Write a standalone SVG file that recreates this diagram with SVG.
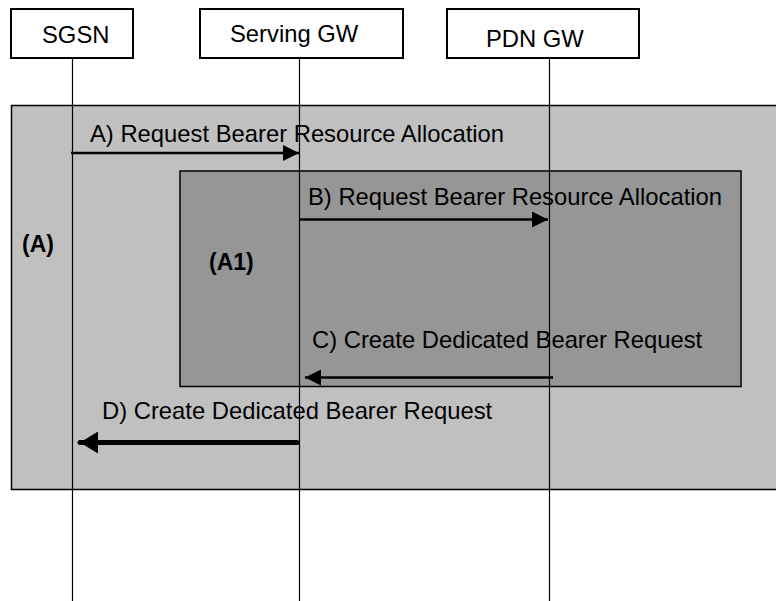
<svg xmlns="http://www.w3.org/2000/svg" width="776" height="601" viewBox="0 0 776 601">
<style>
.box{fill:#ffffff;stroke:#000000;stroke-width:2}
.t{font-family:"Liberation Sans",Arial,sans-serif;font-size:23.8px;fill:#000000}
.b{font-family:"Liberation Sans",Arial,sans-serif;font-size:23px;font-weight:bold;fill:#000000}
.life{stroke:#000000;stroke-width:1.2;fill:none}
.msg{stroke:#000000;stroke-width:2.6;fill:none}
.msgd{stroke:#000000;stroke-width:5;fill:none;stroke-linecap:round}
</style>
<defs>
<marker id="ah" viewBox="0 0 16 16" refX="16" refY="8" markerWidth="16" markerHeight="16" markerUnits="userSpaceOnUse" orient="auto">
<path d="M0,0 L16,8 L0,16 Z" fill="#000000"/>
</marker>
<marker id="ahd" viewBox="0 0 18 22" refX="18" refY="11" markerWidth="18" markerHeight="22" markerUnits="userSpaceOnUse" orient="auto">
<path d="M0,0 L18,11 L0,22 Z" fill="#000000"/>
</marker>
</defs>
<rect width="776" height="601" fill="#ffffff"/>
<g id="regionA">
<rect x="11.5" y="105.5" width="770" height="384" fill="#c0c0c0" stroke="#000000" stroke-width="1.5"/>
<text class="b" x="22" y="252">(A)</text>
</g>
<g id="regionA1">
<rect x="180" y="171" width="561" height="215.5" fill="#969696" stroke="#000000" stroke-width="1.5"/>
<text class="b" x="209" y="270">(A1)</text>
</g>
<g id="sgsn">
<rect class="box" x="11" y="9" width="122" height="49"/>
<text class="t" x="42" y="43">SGSN</text>
</g>
<g id="sgw">
<rect class="box" x="200" y="9" width="203" height="49"/>
<text class="t" x="230" y="42">Serving GW</text>
</g>
<g id="pgw">
<rect class="box" x="447" y="9" width="192" height="49"/>
<text class="t" x="486" y="47">PDN GW</text>
</g>
<g id="connectors">
<line class="life" x1="72.5" y1="58" x2="72.5" y2="601"/>
<line class="life" x1="299.5" y1="58" x2="299.5" y2="601"/>
<line class="life" x1="549.5" y1="58" x2="549.5" y2="601"/>
<line class="msg" x1="71" y1="153" x2="299" y2="153" marker-end="url(#ah)"/>
<text class="t" x="90" y="142">A) Request Bearer Resource Allocation</text>
<line class="msg" x1="299" y1="219.5" x2="548" y2="219.5" marker-end="url(#ah)"/>
<text class="t" x="308" y="205">B) Request Bearer Resource Allocation</text>
<line class="msg" x1="553" y1="377.5" x2="305" y2="377.5" marker-end="url(#ah)"/>
<text class="t" x="312" y="348">C) Create Dedicated Bearer Request</text>
<line class="msgd" x1="297" y1="442.5" x2="80" y2="442.5" marker-end="url(#ahd)"/>
<text class="t" x="102" y="419">D) Create Dedicated Bearer Request</text>
</g>
</svg>
